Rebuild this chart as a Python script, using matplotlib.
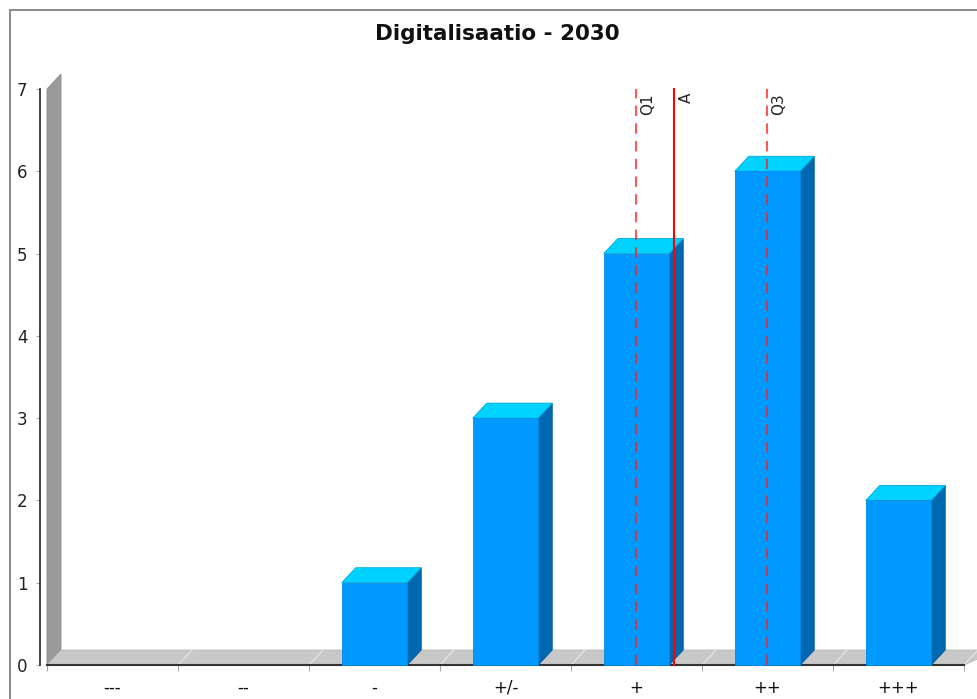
import matplotlib
matplotlib.use("Agg")
import matplotlib.pyplot as plt
from matplotlib.patches import Polygon, Rectangle
from matplotlib.lines import Line2D

# ---- data ----
categories = ["---", "--", "-", "+/-", "+", "++", "+++"]
counts = [0, 0, 1, 3, 5, 6, 2]
stat_labels = ["Q1", "A", "Q3"]
stat_positions = [4.0, 4.29, 5.0]   # in category index units
stat_styles = ["dashed", "solid", "dashed"]
title = "Digitalisaatio - 2030"
y_ticks = [0, 1, 2, 3, 4, 5, 6, 7]

W, H = 978, 699
fig = plt.figure(figsize=(W / 100, H / 100), dpi=100)
fig.patch.set_facecolor("white")

# axes in pixel coordinates
x_left, x_right = 47, 964
y_bot, y_top = 665, 89
ax = fig.add_axes([x_left / W, 1 - y_bot / H, (x_right - x_left) / W, (y_bot - y_top) / H])
n = len(categories)
ax.set_xlim(-0.5, n - 0.5)
ax.set_ylim(0, 7)
ax.set_facecolor("none")

px_x = (n) / (x_right - x_left)       # data units per pixel (x)
px_y = 7 / (y_bot - y_top)            # data units per pixel (y)
dx = 14 * px_x
dy = 15 * px_y

# wall
wall = Polygon([(-0.5, 0), (-0.5, 7), (-0.5 + dx, 7 + dy), (-0.5 + dx, dy)],
               closed=True, facecolor="#9a9a9a", edgecolor="#8c8c8c", lw=0.6,
               clip_on=False, zorder=1)
ax.add_patch(wall)
# floor (extends to the right edge)
x_floor_end = (W + 20 - x_left) * px_x - 0.5
floor = Polygon([(-0.5, 0), (n - 0.5, 0), (x_floor_end, dy), (-0.5 + dx, dy)],
                closed=True, facecolor="#c8c8c8", edgecolor="#b8b8b8", lw=0.6,
                clip_on=False, zorder=1)
ax.add_patch(floor)
for b in range(1, n + 1):
    xb = b - 0.5
    ax.add_line(Line2D([xb, xb + dx], [0, dy], color="#e2e2e2", lw=1.0,
                       clip_on=False, zorder=1.5))

# bars
bw = 0.5
front_c = "#0099ff"
top_c = "#00d2ff"
side_c = "#0068b0"
for i, h in enumerate(counts):
    if h <= 0:
        continue
    x0, x1 = i - bw / 2, i + bw / 2
    ax.add_patch(Polygon([(x1, 0), (x1 + dx, dy), (x1 + dx, h + dy), (x1, h)],
                         closed=True, facecolor=side_c, edgecolor="#005d9e", lw=0.6,
                         clip_on=False, zorder=3))
    ax.add_patch(Polygon([(x0, h), (x1, h), (x1 + dx, h + dy), (x0 + dx, h + dy)],
                         closed=True, facecolor=top_c, edgecolor="#00a8dd", lw=0.6,
                         clip_on=False, zorder=3))
    ax.add_patch(Rectangle((x0, 0), bw, h, facecolor=front_c, edgecolor="#008ae6",
                           lw=0.6, clip_on=False, zorder=3))

# statistic lines
for lab, pos, sty in zip(stat_labels, stat_positions, stat_styles):
    if sty == "dashed":
        ax.plot([pos, pos], [0, 7], color="#ff2020", lw=1.5, ls=(0, (5, 3.5)),
                alpha=0.75, zorder=5, clip_on=False)
    else:
        ax.plot([pos, pos], [0, 7], color="#ff0000", lw=1.5, zorder=5, clip_on=False)
    ax.text(pos + 4 * px_x, 7 - 4 * px_y, lab, rotation=90, ha="left", va="top",
            fontsize=11, color="#222222", zorder=6)

# axes styling
for s in ["top", "right"]:
    ax.spines[s].set_visible(False)
ax.spines["left"].set_position(("outward", 7 * 0.72))
ax.spines["left"].set_color("#222222")
ax.spines["left"].set_linewidth(1.2)
ax.spines["bottom"].set_color("#333333")
ax.spines["bottom"].set_linewidth(1.5)
ax.spines["bottom"].set_zorder(2)

ax.set_yticks(y_ticks)
ax.set_yticklabels([str(t) for t in y_ticks])
ax.tick_params(axis="y", length=3, width=0.8, color="#aaaaaa", pad=6, labelsize=12,
               labelcolor="#222222")
ax.set_xticks(range(n))
ax.set_xticklabels(categories)
ax.set_xticks([b - 0.5 for b in range(n + 1)], minor=True)
ax.tick_params(axis="x", which="major", length=0, pad=10, labelsize=12,
               labelcolor="#111111")
ax.tick_params(axis="x", which="minor", length=4, width=0.8, color="#aaaaaa")

# title
fig.text(497 / W, 1 - 34 / H, title, ha="center", va="center", fontsize=15.5,
         fontweight="bold", color="#111111")

# outer panel frame (top and left visible)
fig.add_artist(Line2D([9.5 / W, 1.0], [1 - 9.5 / H, 1 - 9.5 / H], transform=fig.transFigure,
                      color="#8a8a8a", lw=1.4))
fig.add_artist(Line2D([9.5 / W, 9.5 / W], [1 - 9.5 / H, 0.0], transform=fig.transFigure,
                      color="#8a8a8a", lw=1.4))

fig.savefig("out.png", dpi=100)
